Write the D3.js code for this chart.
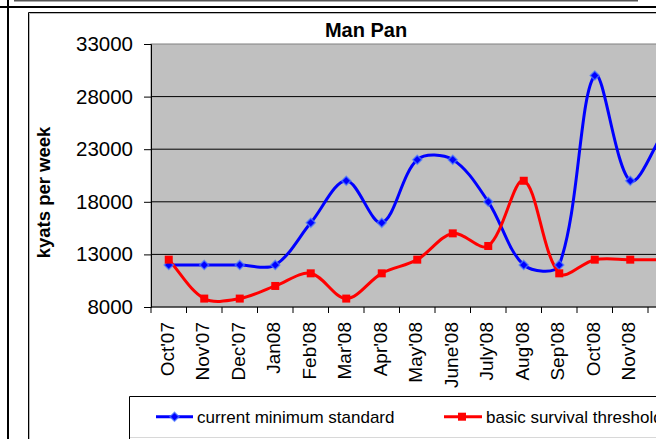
<!DOCTYPE html>
<html><head><meta charset="utf-8">
<script src="https://cdn.jsdelivr.net/npm/d3@7"></script>
<style>body{margin:0;background:#fff}svg{display:block;font-family:"Liberation Sans",Arial,sans-serif}</style>
</head><body><svg id="c" width="656" height="439"></svg>
<script>
const categories = ["Oct'07","Nov'07","Dec'07","Jan08","Feb'08","Mar'08","Apr'08","May'08","June'08","July'08","Aug'08","Sep'08","Oct'08","Nov'08","Dec'08"];
const currentMinimum = [12000,12000,12000,12000,16000,20000,16000,22000,22000,18000,12000,12000,30000,20000,25000];
const survivalThreshold = [12500,8800,8800,10000,11200,8800,11200,12500,15000,13800,20000,11200,12500,12500,12500];
const yTicks = [8000,13000,18000,23000,28000,33000];
const seriesNames = ["current minimum standard","basic survival threshold"];
const title = "Man Pan";
const yTitle = "kyats per week";

const svg = d3.select("#c");
// page decorations
svg.append("rect").attr("x",14).attr("y",0).attr("width",624).attr("height",1.5).attr("fill","#555");
svg.append("rect").attr("x",0).attr("y",6).attr("width",656).attr("height",2).attr("fill","#000");
svg.append("rect").attr("x",7).attr("y",0).attr("width",2).attr("height",439).attr("fill","#000");
// chart frame
svg.append("path").attr("d","M28.5,439V12.5H656").attr("stroke","#000").attr("fill","none");
svg.append("path").attr("d","M29.5,439V13.5H656").attr("stroke","#b8b8b8").attr("fill","none");

const left = 151, step = 35.5;
const x = d3.scaleBand().domain(categories).range([left, left + step*categories.length]);
const y = d3.scaleLinear().domain([8000,33000]).range([307,44]);
const right = left + step*categories.length;

// plot area
svg.append("rect").attr("x",left).attr("y",y(33000)).attr("width",right-left).attr("height",y(8000)-y(33000))
  .attr("fill","#c0c0c0").attr("stroke","#808080");
// gridlines
svg.append("g").selectAll("line").data(yTicks.slice(1,-1)).join("line")
  .attr("x1",left).attr("x2",right).attr("y1",d=>y(d)).attr("y2",d=>y(d))
  .attr("stroke","#000").attr("stroke-width",1);

// y axis
const ya = svg.append("g").attr("transform",`translate(${left},0)`)
  .call(d3.axisLeft(y).tickValues(yTicks).tickSize(7).tickPadding(11).tickFormat(d3.format("d")));
ya.select(".domain").attr("stroke","#000");
ya.selectAll("text").attr("font-size","20.5px").attr("fill","#000").attr("font-family","Liberation Sans, Arial");
ya.selectAll("line").attr("stroke","#000");

// x axis
const xg = svg.append("g");
xg.append("line").attr("x1",left).attr("x2",right).attr("y1",y(8000)).attr("y2",y(8000)).attr("stroke","#000");
const bounds = categories.map(c=>x(c)).concat([right]);
xg.selectAll("line.t").data(bounds).join("line").attr("class","t")
  .attr("x1",d=>d).attr("x2",d=>d).attr("y1",y(8000)).attr("y2",y(8000)+6).attr("stroke","#000");
xg.selectAll("text").data(categories).join("text")
  .attr("transform",d=>`translate(${x(d)+x.bandwidth()/2},322) rotate(-90)`)
  .attr("text-anchor","end").attr("dy","0.25em").attr("font-size","19px").attr("fill","#000").text(d=>d);

// smoothing (Excel-like bezier)
function smoothPath(pts, t){
  const p = d3.path();
  const dist = (a,b)=>Math.hypot(a[0]-b[0],a[1]-b[1]);
  p.moveTo(pts[0][0],pts[0][1]);
  for(let i=0;i<pts.length-1;i++){
    const P0=pts[i-1]||pts[i], P1=pts[i], P2=pts[i+1], P3=pts[i+2]||pts[i+1];
    const d01=dist(P0,P1), d12=dist(P1,P2), d23=dist(P2,P3);
    const f1 = d12/(d01+d12), f2 = d12/(d12+d23);
    const c1=[P1[0]+t*f1*(P2[0]-P0[0]), P1[1]+t*f1*(P2[1]-P0[1])];
    const c2=[P2[0]-t*f2*(P3[0]-P1[0]), P2[1]-t*f2*(P3[1]-P1[1])];
    p.bezierCurveTo(c1[0],c1[1],c2[0],c2[1],P2[0],P2[1]);
  }
  return p.toString();
}
const cx = c=>x(c)+x.bandwidth()/2;
const bluePts = categories.map((c,i)=>[cx(c), y(currentMinimum[i])]);
const redPts = categories.map((c,i)=>[cx(c), y(survivalThreshold[i])]);

svg.append("path").attr("d",smoothPath(bluePts,1/3)).attr("fill","none").attr("stroke","#0000ff").attr("stroke-width",3);
svg.append("path").attr("d",smoothPath(redPts,1/3)).attr("fill","none").attr("stroke","#ff0000").attr("stroke-width",3);

const diamond = "M0,-4.5L4.5,0L0,4.5L-4.5,0Z";
svg.append("g").selectAll("path").data(bluePts).join("path")
  .attr("d",diamond).attr("transform",d=>`translate(${d[0]},${d[1]})`)
  .attr("fill","#0000ff").attr("stroke","#4d7cff").attr("stroke-width",1.5).attr("stroke-opacity",0.7);
svg.append("g").selectAll("rect").data(redPts).join("rect")
  .attr("x",d=>d[0]-4).attr("y",d=>d[1]-4).attr("width",8).attr("height",8).attr("fill","#ff0000");

// title
svg.append("text").attr("x",366).attr("y",37).attr("text-anchor","middle")
  .attr("font-size","20px").attr("font-weight","bold").attr("fill","#000").text(title);
svg.append("text").attr("transform","translate(44,192.5) rotate(-90)").attr("text-anchor","middle")
  .attr("dy","0.32em").attr("font-size","18.5px").attr("font-weight","bold").attr("fill","#000").text(yTitle);

// legend
svg.append("path").attr("d","M129.5,439V396.5H656").attr("stroke","#000").attr("fill","none");
svg.append("line").attr("x1",130).attr("x2",656).attr("y1",437.5).attr("y2",437.5).attr("stroke","#d8d8d8");
const ly = 416.7;
svg.append("line").attr("x1",156).attr("x2",193).attr("y1",ly).attr("y2",ly).attr("stroke","#0000ff").attr("stroke-width",3);
svg.append("path").attr("d",diamond).attr("transform",`translate(174.5,${ly})`)
  .attr("fill","#0000ff").attr("stroke","#4d7cff").attr("stroke-width",1.5).attr("stroke-opacity",0.7);
svg.append("text").attr("x",197).attr("y",ly).attr("dy","0.35em").attr("font-size","17px").attr("fill","#000").text(seriesNames[0]);
svg.append("line").attr("x1",444).attr("x2",482).attr("y1",ly).attr("y2",ly).attr("stroke","#ff0000").attr("stroke-width",3);
svg.append("rect").attr("x",458).attr("y",ly-4).attr("width",8).attr("height",8).attr("fill","#ff0000");
svg.append("text").attr("x",486).attr("y",ly).attr("dy","0.35em").attr("font-size","17px").attr("fill","#000").text(seriesNames[1]);
</script></body></html>
